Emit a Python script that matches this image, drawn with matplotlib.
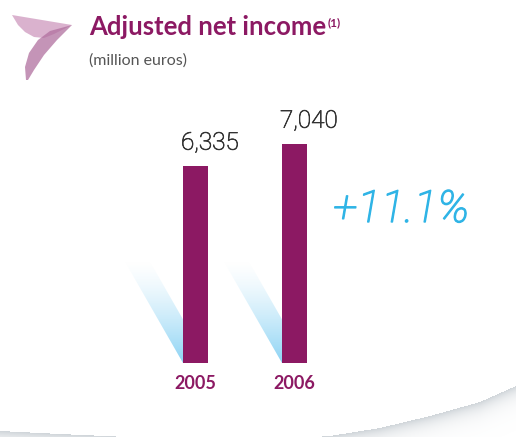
import numpy as np
import matplotlib
matplotlib.use("Agg")
import matplotlib.pyplot as plt
import matplotlib.patheffects as pe
from matplotlib.patches import Polygon

# ---- data ----
years = ["2005", "2006"]
values = [6335, 7040]
title = "Adjusted net income"
title_sup = "(1)"
subtitle = "(million euros)"
growth_label = "+11.1%"

PURPLE = "#8c1963"
BLUE = "#2fb4e6"

W, H = 516, 437
fig = plt.figure(figsize=(W / 100, H / 100), dpi=100)
fig.patch.set_facecolor("white")

# background decoration axes (pixel coordinates, y down)
bg = fig.add_axes([0, 0, 1, 1])
bg.set_xlim(0, W)
bg.set_ylim(H, 0)
bg.axis("off")

# bottom swoosh shading
cx = np.array([0, 60, 150, 250, 330, 380, 430, 480, 516])
cy = np.array([431, 434, 438, 441, 436, 428, 416, 402, 386])
xs = np.arange(W) + 0.5
ys = np.arange(H) + 0.5
curve = np.interp(xs, cx, cy)
d = ys[:, None] - curve[None, :]
alpha = np.where(d > 0, 0.55 * np.exp(-np.clip(d, 0, None) / 9.0), 0.0)
img = np.zeros((H, W, 4))
img[..., 0] = 0.66
img[..., 1] = 0.70
img[..., 2] = 0.73
img[..., 3] = alpha
bg.imshow(img, extent=(0, W, H, 0), origin="upper", zorder=0, interpolation="bilinear")

# logo
leaf = [(12, 15), (72, 25), (64, 29), (54, 34), (44, 38), (34, 37), (25, 32), (18, 25)]
stroke = [(72, 25), (57, 40), (44, 55), (34, 70), (28, 80), (26, 80), (25, 67), (29, 53), (38, 40), (50, 31)]
bg.add_patch(Polygon(leaf, closed=True, facecolor="#d4a5c6", edgecolor="none", alpha=0.85, zorder=2))
bg.add_patch(Polygon(stroke, closed=True, facecolor="#b1709f", edgecolor="none", alpha=0.75, zorder=3))

# title texts
FAM = ["Lato", "DejaVu Sans"]
LIGHT = ["Roboto", "DejaVu Sans"]
t = fig.text(89 / W, 1 - 35 / H, title, fontsize=18.5, fontweight="bold", color=PURPLE,
             family=FAM, va="baseline", ha="left")
fig.canvas.draw()
bb = t.get_window_extent()
fig.text((bb.x1 + 1) / W, 1 - 26 / H, title_sup, fontsize=8.5, fontweight="bold", color=PURPLE,
         family=FAM, va="baseline", ha="left")
fig.text(89 / W, 1 - 65 / H, subtitle, fontsize=11.5, color="#555555",
         family=FAM, va="baseline", ha="left")

# ---- chart axes ----
ax = fig.add_axes([0, 0, 1, 1])
ax.patch.set_alpha(0)
PX_X = 99.0
X0 = 195.5
U = 32.1           # data units per pixel (y)
BASE = 74          # baseline px from bottom
ax.axis("off")

bw = 25 / PX_X
pos = np.arange(len(values))

# light-blue diagonal shadows behind bars
sh_dx = 59 / PX_X
sh_top = 103 * U
grad = np.linspace(0, 1, 200)[:, None] ** 1.4
for i in pos:
    xl = i - bw / 2
    poly = Polygon([(xl, 0), (xl + bw, 0), (xl + bw - sh_dx, sh_top), (xl - sh_dx, sh_top)],
                   closed=True, facecolor="none", edgecolor="none")
    ax.add_patch(poly)
    g = np.zeros((200, 2, 4))
    g[..., 0] = 0.55
    g[..., 1] = 0.83
    g[..., 2] = 0.96
    g[..., 3] = np.repeat(grad, 2, axis=1)
    im = ax.imshow(g, extent=(xl - sh_dx, xl + bw, 0, sh_top), origin="upper",
                   aspect="auto", zorder=1, interpolation="bilinear")
    im.set_clip_path(poly)
ax.set_xlim(-X0 / PX_X, (W - X0) / PX_X)
ax.set_ylim(-BASE * U, (H - BASE) * U)

ax.bar(pos, values, width=bw, color=PURPLE, zorder=2)

for i, v in zip(pos, values):
    ax.text(i - bw / 2 - 2 / PX_X, v + 16 * U, f"{v:,}", ha="left", va="baseline",
            fontsize=17.5, color="#333333", family=LIGHT, fontweight="light",
            path_effects=[pe.withStroke(linewidth=0.5, foreground="#333333")])
for i, y in zip(pos, years):
    ax.text(i, -26 * U, y, ha="center", va="baseline", fontsize=13,
            fontweight="bold", color=PURPLE, family=FAM)

fig.text(333 / W, 1 - 222 / H, growth_label, fontsize=32, color=BLUE, style="italic",
         fontweight="light", family=LIGHT, va="baseline", ha="left",
         path_effects=[pe.withStroke(linewidth=1.0, foreground=BLUE)])

fig.savefig("out.png", dpi=100, facecolor="white")
